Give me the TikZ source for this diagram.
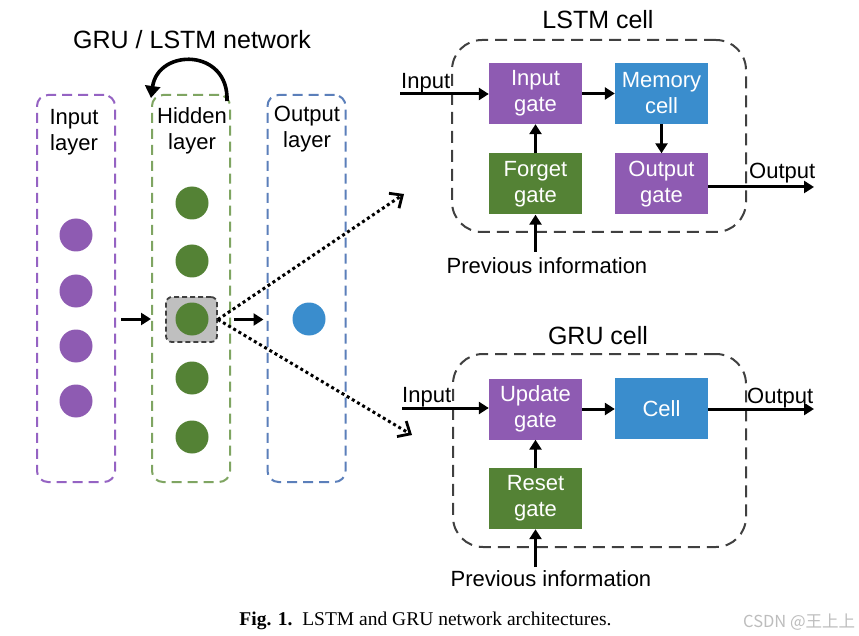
\documentclass[tikz,border=0pt]{standalone}
\usepackage{fontspec}
\setmainfont{Liberation Sans}
\newfontfamily\capfont{Liberation Serif}
\newfontfamily\cjk{Noto Sans CJK SC}
\usetikzlibrary{arrows.meta}
\definecolor{purp}{HTML}{8E5BB2}
\definecolor{grn}{HTML}{548235}
\definecolor{blu}{HTML}{3A8DCD}
\definecolor{purpline}{HTML}{9563C3}
\definecolor{grnline}{HTML}{7FA562}
\definecolor{bluline}{HTML}{5B7FBA}
\definecolor{cellline}{HTML}{404040}
\definecolor{sqfill}{HTML}{BFBFBF}
\definecolor{wmark}{HTML}{BDBDBD}
\tikzset{
  arr/.style={line width=3pt, -{Triangle[length=10pt,width=12pt]}},
  gatebox/.style={minimum width=93pt, minimum height=61pt, inner sep=0pt, text=white, align=center, font=\fontsize{22}{26}\selectfont},
  lbl/.style={font=\fontsize{22}{26}\selectfont, align=center, inner sep=0pt},
  ttl/.style={font=\fontsize{25}{30}\selectfont, inner sep=0pt},
  layerbox/.style={rounded corners=11pt, line width=2pt, dash pattern=on 10pt off 6pt, minimum width=78pt, minimum height=387pt, inner sep=0pt},
  cellbox/.style={draw=cellline, rounded corners=30pt, line width=2pt, dash pattern=on 12pt off 7pt, inner sep=0pt},
  neuron/.style={circle, minimum size=33pt, inner sep=0pt},
  dotarr/.style={line width=3pt, dash pattern=on 3pt off 3pt, -{Straight Barb[length=10pt,width=18pt,line width=2.8pt]}},
}
\begin{document}
\begin{tikzpicture}[x=1pt,y=-1pt]
\fill[white] (0,0) rectangle (859,636);
\useasboundingbox (0,0) rectangle (859,636);

% title
\node[ttl, anchor=base] (nettitle) at (192,49) {GRU / LSTM network};

% layer boxes
\node[layerbox, draw=purpline] (inL) at (76,288.5) {};
\node[layerbox, draw=grnline] (hidL) at (191,288.5) {};
\node[layerbox, draw=bluline] (outL) at (306.5,288.5) {};

\node[lbl] (inLbl) at (74,132.3) {Input\\layer};
\node[lbl] (hidLbl) at (192,131.3) {Hidden\\layer};
\node[lbl] (outLbl) at (307,129.3) {Output\\layer};

% input neurons
\node[neuron, fill=purp] (i1) at (76,235) {};
\node[neuron, fill=purp] (i2) at (76,291) {};
\node[neuron, fill=purp] (i3) at (76,346) {};
\node[neuron, fill=purp] (i4) at (76,401) {};

% hidden neurons
\node[draw=cellline, fill=sqfill, rounded corners=6pt, line width=1.8pt, dash pattern=on 5pt off 3pt, minimum width=51pt, minimum height=45pt, inner sep=0pt] (hsq) at (191.5,319.5) {};
\node[neuron, fill=grn] (h1) at (192,203) {};
\node[neuron, fill=grn] (h2) at (192,261) {};
\node[neuron, fill=grn] (h3) at (192,319) {};
\node[neuron, fill=grn] (h4) at (192,378) {};
\node[neuron, fill=grn] (h5) at (192,437) {};

% output neuron
\node[neuron, fill=blu] (o1) at (309,319) {};

% recurrent arrow
\coordinate (recA) at (227,101);
\coordinate (recB) at (151,98);
\draw[line width=3.6pt, -{Triangle[length=12pt,width=15pt]}] (recA) .. controls (229,48) and (158,48) .. (recB);

% layer arrows
\draw[arr] ([xshift=5pt]inL.east |- h3.center) -- (hidL.west |- h3.center);
\draw[arr] ([xshift=16pt]hsq.east) -- ([xshift=-3pt]outL.west |- hsq.east);

% dotted arrows
\coordinate (tipL) at (404,194);
\coordinate (tipG) at (412,435);
\draw[dotarr] (hsq.east) -- (tipL);
\draw[dotarr] (hsq.east) -- (tipG);

% ===== LSTM cell =====
\node[ttl, anchor=base] (lstmT) at (598,29) {LSTM cell};
\node[cellbox, minimum width=294pt, minimum height=192pt] (lstmB) at (599,136) {};
\node[gatebox, fill=purp] (ig) at (535.5,93.5) {Input\\gate};
\node[gatebox, fill=blu] (mc) at (661.5,93.5) {Memory\\cell};
\node[gatebox, fill=grn] (fg) at (535.5,184) {Forget\\gate};
\node[gatebox, fill=purp] (og) at (661.5,184) {Output\\gate};

\coordinate (lin) at (400,94);
\coordinate (lout) at (814,187);
\coordinate (lprev) at (535.5,252);
\draw[arr] (lin) -- (ig.west |- lin);
\draw[arr] (ig.east) -- (mc.west);
\draw[arr] (mc.south) -- (og.north);
\draw[arr] (fg.north) -- (ig.south);
\draw[arr] (og.east |- lout) -- (lout);
\draw[arr] (lprev) -- (fg.south);
\node[lbl, anchor=base west] (linT) at (401,89) {Input};
\node[lbl, anchor=base west] (loutT) at (749,179) {Output};
\node[lbl, anchor=base] (lprevT) at (547,273) {Previous information};

% ===== GRU cell =====
\node[ttl, anchor=base] (gruT) at (598,344) {GRU cell};
\node[cellbox, minimum width=293pt, minimum height=193pt] (gruB) at (599.5,450.5) {};
\node[gatebox, fill=purp] (ug) at (535.5,409) {Update\\gate};
\node[gatebox, fill=blu] (gc) at (661.5,408.5) {Cell};
\node[gatebox, fill=grn] (rg) at (535.5,498.5) {Reset\\gate};

\coordinate (gin) at (402,408);
\coordinate (gout) at (814,409);
\coordinate (gprev) at (535.5,567);
\draw[arr] (gin) -- (ug.west |- gin);
\draw[arr] (ug.east) -- (gc.west |- ug.east);
\draw[arr] (gc.east |- gout) -- (gout);
\draw[arr] (rg.north) -- (ug.south);
\draw[arr] (gprev) -- (rg.south);
\node[lbl, anchor=base west] (ginT) at (402,402) {Input};
\node[lbl, anchor=base west] (goutT) at (747,403) {Output};
\node[lbl, anchor=base] (gprevT) at (551,586) {Previous information};

% caption & watermark
\node[anchor=base, inner sep=0pt, font=\capfont\fontsize{19.5}{22}\selectfont] (cap) at (425.5,625) {\textbf{Fig. 1.}\ \ LSTM and GRU network architectures.};
\node[anchor=base west, inner sep=0pt, text=wmark, font=\cjk\fontsize{16.5}{20}\selectfont] (wm) at (743,627) {CSDN @王上上};
\end{tikzpicture}
\end{document}
